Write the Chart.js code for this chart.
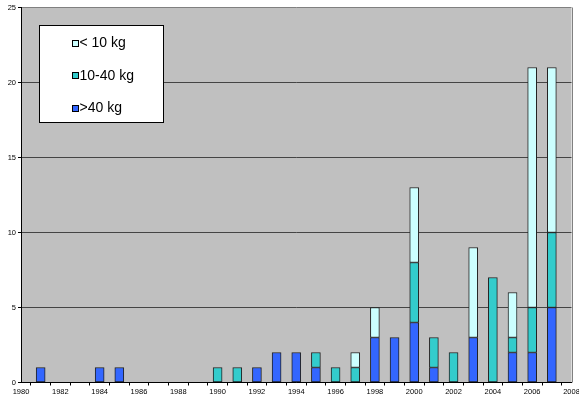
<!DOCTYPE html>
<html><head><meta charset="utf-8">
<script src="https://cdn.jsdelivr.net/npm/chart.js@4/dist/chart.umd.min.js"></script>
<style>html,body{margin:0;padding:0;background:#fff;overflow:hidden}#wrap{width:579px;height:402px}</style>
</head><body><div id="wrap"><canvas id="c" width="579" height="402"></canvas></div>
<script>
// ---- data ----
const years   = [1981,1984,1985,1990,1991,1992,1993,1994,1995,1996,1997,1998,1999,2000,2001,2002,2003,2004,2005,2006,2007];
const over40  = [1,1,1,0,0,1,2,2,1,0,0,3,3,4,1,0,3,0,2,2,5];
const mid1040 = [0,0,0,1,1,0,0,0,1,1,1,0,0,4,2,2,0,7,1,3,5];
const under10 = [0,0,0,0,0,0,0,0,0,0,1,2,0,5,0,0,6,0,3,16,11];
const seriesNames = ['>40 kg','10-40 kg','< 10 kg'];
const xMin = 1980, xMax = 2008, xLabelStep = 2;
const yMin = 0, yMax = 25, yStep = 5;

const FONT = '"Liberation Sans", Arial, sans-serif';
const toPts = vals => years.map((y,i)=>({x:y, y: vals[i] === 0 ? null : vals[i]}));

const plotBg = {
  id:'plotBg',
  beforeDraw(chart){
    const {ctx, chartArea:a} = chart;
    ctx.save(); ctx.fillStyle='#C0C0C0';
    ctx.fillRect(a.left, a.top, a.right-a.left, a.bottom-a.top);
    ctx.restore();
  },
  afterDraw(chart){
    const {ctx, chartArea:a} = chart;
    ctx.save(); ctx.strokeStyle='#808080'; ctx.lineWidth=1;
    const r = Math.round(a.right)+0.5;
    ctx.beginPath(); ctx.moveTo(r, a.top); ctx.lineTo(r, a.bottom); ctx.stroke();
    ctx.restore();
  }
};

const legendBox = {
  id:'legendBox',
  afterDraw(chart){
    const ctx = chart.ctx;
    ctx.save();
    ctx.fillStyle='#fff'; ctx.fillRect(39,25,125,97);
    ctx.strokeStyle='#000'; ctx.lineWidth=1; ctx.strokeRect(39.5,25.5,124,97);
    const ds = chart.data.datasets.slice().reverse();
    ds.forEach((d,i)=>{
      const cy = 43 + i*32.3;
      ctx.fillStyle = d.backgroundColor;
      ctx.fillRect(72.5, Math.round(cy-3)+0.5, 6, 6);
      ctx.strokeStyle='#000';
      ctx.strokeRect(72.5, Math.round(cy-3)+0.5, 6, 6);
      ctx.fillStyle='#000'; ctx.font='14px '+FONT; ctx.textBaseline='middle'; ctx.textAlign='left';
      ctx.fillText(d.label, 79.5, cy+0.5);
    });
    ctx.restore();
  }
};

const barStyle = {borderColor:'#222', borderWidth:1, borderSkipped:false, barThickness:9};

new Chart(document.getElementById('c'), {
  type:'bar',
  data:{
    datasets:[
      Object.assign({label:seriesNames[0], data:toPts(over40),  backgroundColor:'#3366FF'}, barStyle),
      Object.assign({label:seriesNames[1], data:toPts(mid1040), backgroundColor:'#33CCCC'}, barStyle),
      Object.assign({label:seriesNames[2], data:toPts(under10), backgroundColor:'#CCFFFF'}, barStyle)
    ]
  },
  options:{
    responsive:false, animation:false,
    layout:{padding:{left:0, top:7.5, right:7.5, bottom:0}},
    plugins:{legend:{display:false}, tooltip:{enabled:false}},
    scales:{
      x:{
        type:'linear', stacked:true, min:xMin, max:xMax, offset:false,
        grid:{drawOnChartArea:false, drawTicks:true, tickLength:3, tickColor:'#000'},
        border:{display:true, color:'#000', width:1},
        ticks:{stepSize:1, autoSkip:false, maxRotation:0, minRotation:0, padding:2, color:'#000',
          font:{family:FONT, size:7.5},
          callback:v => (v % xLabelStep === 0 ? String(v) : '')},
        afterFit(s){ s.height = 19.5; s.paddingLeft = 0; s.paddingRight = 0; }
      },
      y:{
        stacked:true, min:yMin, max:yMax,
        grid:{color:ctx => (ctx.tick && ctx.tick.value === yMax ? '#808080' : '#444'), lineWidth:1,
              drawTicks:true, tickLength:3, tickColor:'#000'},
        border:{display:true, color:'#000', width:1},
        ticks:{stepSize:yStep, padding:2, color:'#000', font:{family:FONT, size:7.5}},
        afterFit(s){ s.width = 21; s.paddingTop = 0; s.paddingBottom = 0; }
      }
    }
  },
  plugins:[plotBg, legendBox]
});
</script>
</body></html>
